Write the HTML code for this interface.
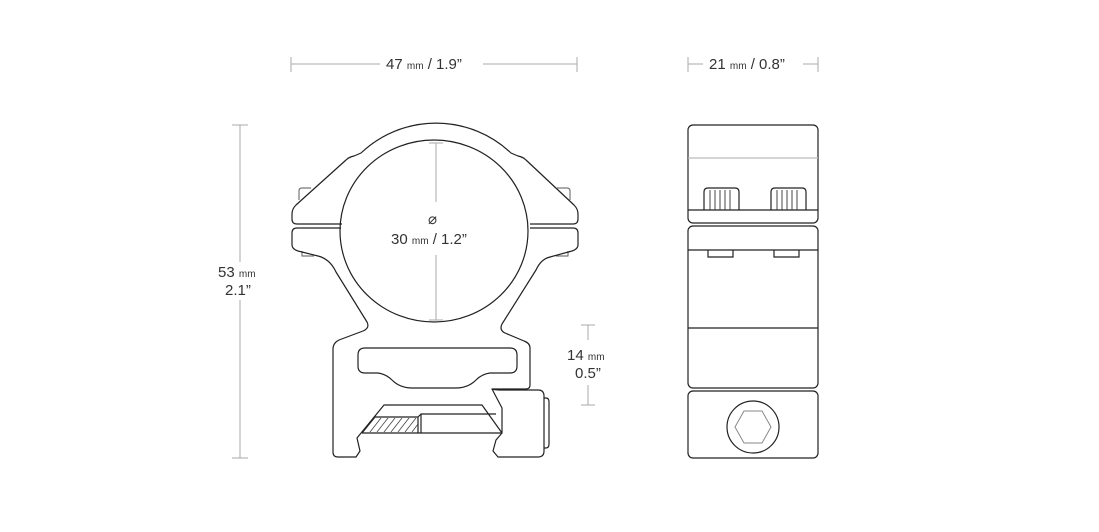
<!DOCTYPE html>
<html><head><style>
html,body{margin:0;padding:0;background:#fff;width:1099px;height:532px;overflow:hidden}
svg{display:block}
text{font-family:"Liberation Sans",sans-serif;fill:#333;font-size:15px}
.s{font-size:10px}
</style></head><body>
<svg width="1099" height="532" viewBox="0 0 1099 532" xmlns="http://www.w3.org/2000/svg">
<g stroke="#aaa" stroke-width="1" fill="none">
<line x1="291" y1="64" x2="380" y2="64"/><line x1="483" y1="64" x2="577" y2="64"/>
<line x1="291" y1="57" x2="291" y2="72"/><line x1="577" y1="57" x2="577" y2="72"/>
<line x1="688" y1="64" x2="703" y2="64"/><line x1="803" y1="64" x2="818" y2="64"/>
<line x1="688" y1="57" x2="688" y2="72"/><line x1="818" y1="57" x2="818" y2="72"/>
<line x1="240" y1="125" x2="240" y2="262"/><line x1="240" y1="300" x2="240" y2="458"/>
<line x1="232" y1="125" x2="248" y2="125"/><line x1="232" y1="458" x2="248" y2="458"/>
<line x1="588" y1="325" x2="588" y2="340"/><line x1="588" y1="385" x2="588" y2="405"/>
<line x1="581" y1="325" x2="595" y2="325"/><line x1="581" y1="405" x2="595" y2="405"/>
<line x1="436" y1="143" x2="436" y2="202"/><line x1="436" y1="255" x2="436" y2="320"/>
<line x1="429" y1="143" x2="443" y2="143"/><line x1="429" y1="320" x2="443" y2="320"/>
</g>
<text x="386" y="69">47 <tspan class="s">mm</tspan> / 1.9”</text>
<text x="709" y="69">21 <tspan class="s">mm</tspan> / 0.8”</text>
<text x="218" y="277">53 <tspan class="s">mm</tspan></text>
<text x="225" y="295">2.1”</text>
<text x="567" y="360">14 <tspan class="s">mm</tspan></text>
<text x="575" y="378">0.5”</text>
<text x="428" y="224">⌀</text>
<text x="391" y="244">30 <tspan class="s">mm</tspan> / 1.2”</text>

<g stroke="#222" stroke-width="1.2" fill="none" stroke-linejoin="round">
<!-- small lugs -->
<path d="M299,200 L299,191 Q299,188 302,188 L311,188" stroke="#777"/>
<path d="M570,200 L570,191 Q570,188 567,188 L557,188" stroke="#777"/>
<path d="M302,251 L302,256 L314,256" stroke="#777"/>
<path d="M568,251 L568,256 L556,256" stroke="#777"/>
<!-- top clamp -->
<path d="M342,224 L297,224 Q292,224 292,219 L292,214 Q292,209 296,205 L346,160 Q349,157 354,156 L361,153 A109,109 0 0 1 511,153 L518,156 Q523,157 526,160 L574,205 Q578,209 578,214 L578,219 Q578,224 573,224 L530,224"/>
<!-- circle -->
<ellipse cx="434" cy="231" rx="94" ry="91"/>
<!-- base -->
<path d="M341,228 L297,228 Q292,228 292,233 L292,245 Q292,249 298,251 L318,256 Q330,259 336,272 L367,322 Q370,328 363,331 L339,340 Q333,343 333,349 L333,452 Q333,457 338,457 L356,457 L360,451 L357,438 L384,405 L482,405 L502,433 L496,440 L493,451 L498,457 L538,457 Q544,457 544,451 L544,396 Q544,390 538,390 L500,390 Q494,390 492,389 L502,408 L502,433"/>
<path d="M492,389 L526,389 Q530,389 530,385 L530,348 Q530,343 524,341 L505,333 Q499,330 502,324 L536,270 Q541,259 550,257 L572,251 Q578,249 578,245 L578,233 Q578,228 573,228 L530,228"/>
<path d="M544,398 L546,398 Q549,398 549,402 L549,444 Q549,448 546,448 L544,448"/>
<!-- slot -->
<path d="M365,348 L510,348 Q517,348 517,355 L517,366 Q517,373 510,373 L490,373 Q482,374 476,380 Q468,388 456,388 L412,388 Q400,388 392,380 Q386,374 378,373 L365,373 Q358,373 358,366 L358,355 Q358,348 365,348 Z"/>
<!-- threaded rod -->
<path d="M362,433 L375,417 L418,417 L421,414 L496,414"/>
<line x1="362" y1="433" x2="502" y2="433"/>
<line x1="421" y1="414" x2="421" y2="433"/>
<line x1="418" y1="417" x2="418" y2="433"/>
</g>
<g stroke="#444" stroke-width="0.8">
<line x1="370" y1="432" x2="381" y2="418"/><line x1="377" y1="432" x2="388" y2="418"/>
<line x1="384" y1="432" x2="395" y2="418"/><line x1="391" y1="432" x2="402" y2="418"/>
<line x1="398" y1="432" x2="409" y2="418"/><line x1="405" y1="432" x2="416" y2="418"/>
<line x1="412" y1="432" x2="418" y2="424"/>
</g>

<!-- right view -->
<g stroke="#222" stroke-width="1.2" fill="none">
<rect x="688" y="125" width="130" height="98" rx="5"/>
<rect x="688" y="226" width="130" height="162" rx="5"/>
<rect x="688" y="391" width="130" height="67" rx="5"/>
<line x1="688" y1="210" x2="818" y2="210"/>
<line x1="688" y1="250" x2="818" y2="250"/>
<line x1="688" y1="328" x2="818" y2="328"/>
<path d="M704,210 L704,192 Q704,188 708,188 L735,188 Q739,188 739,192 L739,210"/>
<path d="M771,210 L771,192 Q771,188 775,188 L802,188 Q806,188 806,192 L806,210"/>
<path d="M708,250 L708,257 L733,257 L733,250"/>
<path d="M774,250 L774,257 L799,257 L799,250"/>
<circle cx="753" cy="427" r="26"/>
</g>
<line x1="688" y1="158" x2="818" y2="158" stroke="#bbb" stroke-width="1.2"/>
<g stroke="#333" stroke-width="0.9">
<line x1="710" y1="190" x2="710" y2="210"/><line x1="715" y1="190" x2="715" y2="210"/><line x1="720" y1="190" x2="720" y2="210"/><line x1="725" y1="190" x2="725" y2="210"/><line x1="730" y1="190" x2="730" y2="210"/>
<line x1="777" y1="190" x2="777" y2="210"/><line x1="782" y1="190" x2="782" y2="210"/><line x1="787" y1="190" x2="787" y2="210"/><line x1="792" y1="190" x2="792" y2="210"/><line x1="797" y1="190" x2="797" y2="210"/>
</g>
<polygon points="744,411 762,411 771,427 762,443 744,443 735,427" fill="none" stroke="#888" stroke-width="1"/>
</svg>
</body></html>
